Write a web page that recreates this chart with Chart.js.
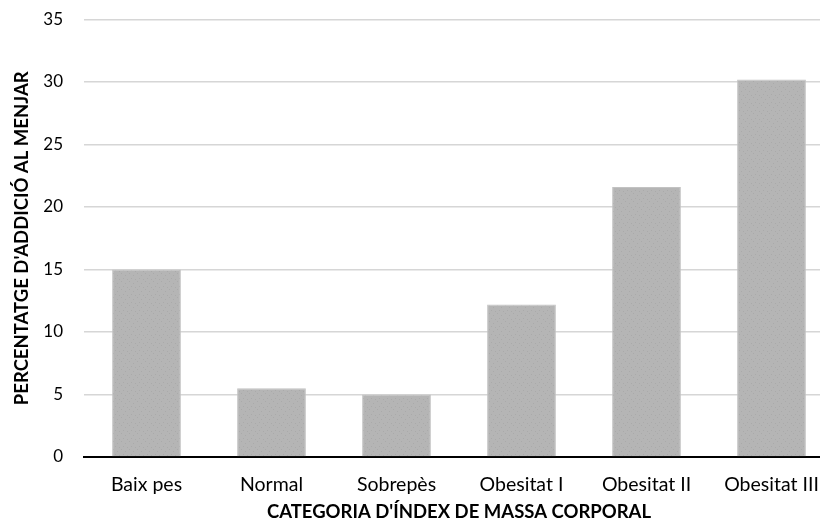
<!DOCTYPE html>
<html>
<head>
<meta charset="utf-8">
<script src="https://cdn.jsdelivr.net/npm/chart.js@4/dist/chart.umd.min.js"></script>
<style>
  html, body { margin: 0; padding: 0; background: #fff; overflow: hidden; }
  #wrap { width: 840px; height: 526px; }
</style>
</head>
<body>
<div id="wrap"><canvas id="c" width="840" height="526"></canvas></div>
<script>
const categories = ['Baix pes', 'Normal', 'Sobrepès', 'Obesitat I', 'Obesitat II', 'Obesitat III'];
const percentages = [15.0, 5.5, 5.0, 12.2, 21.6, 30.2];
const yTicks = [0, 5, 10, 15, 20, 25, 30, 35];
const xTitle = "CATEGORIA D'ÍNDEX DE MASSA CORPORAL";
const yTitle = "PERCENTATGE D'ADDICIÓ AL MENJAR";

// Grey fill with a fine stipple, like a printed bar
function stipple() {
  const p = document.createElement('canvas');
  p.width = 8; p.height = 8;
  const g = p.getContext('2d');
  g.fillStyle = '#b5b5b5';
  g.fillRect(0, 0, 8, 8);
  g.fillStyle = '#aaaaaa';
  g.fillRect(1, 1, 1, 1);
  g.fillRect(5, 3, 1, 1);
  g.fillRect(3, 6, 1, 1);
  g.fillRect(7, 7, 1, 1);
  return g.createPattern(p, 'repeat');
}

const FONT = "Lato, 'Open Sans', sans-serif";

new Chart(document.getElementById('c'), {
  type: 'bar',
  data: {
    labels: categories,
    datasets: [{
      data: percentages,
      backgroundColor: stipple(),
      borderColor: '#c2c2c2',
      borderWidth: 1,
      barPercentage: 0.55,
      categoryPercentage: 1.0
    }]
  },
  options: {
    responsive: false,
    animation: false,
    layout: { padding: { top: 19.5, right: 6, bottom: 0, left: 0 } },
    plugins: { legend: { display: false }, tooltip: { enabled: false } },
    scales: {
      x: {
        grid: { display: false, drawTicks: false },
        border: { display: true, color: '#000', width: 2 },
        ticks: { color: '#000', font: { family: FONT, size: 19.5 }, padding: 16, maxRotation: 0, autoSkip: false },
        title: { display: true, text: xTitle, color: '#000', font: { family: FONT, size: 18.5, weight: 'bold' }, padding: { top: 0, bottom: 3 } },
        afterFit: s => { s.height = 69; }
      },
      y: {
        min: 0, max: 35,
        afterBuildTicks: s => { s.ticks = yTicks.map(v => ({ value: v })); },
        // invisible tick marks keep the labels clear of the plot
        grid: { color: '#d6d6d6', lineWidth: 1.5, drawTicks: true, tickLength: 21, tickColor: 'rgba(0,0,0,0)' },
        border: { display: false },
        ticks: { color: '#000', font: { family: FONT, size: 17 }, padding: 0 },
        title: { display: true, text: yTitle, color: '#000', font: { family: FONT, size: 18.5, weight: 'bold' }, padding: { top: 11, bottom: 0 } },
        afterFit: s => { s.width = 84; }
      }
    }
  }
});
</script>
</body>
</html>
